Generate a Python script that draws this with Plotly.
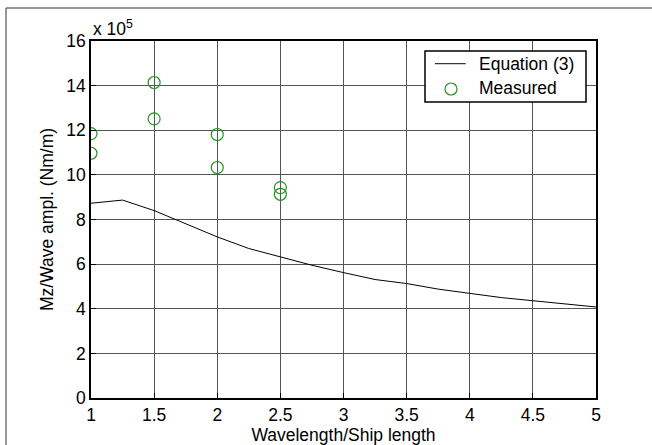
import plotly.graph_objects as go

# Wavelength / ship length ratio for the equation curve
eq_ratio = [1.0, 1.25, 1.5, 1.75, 2.0, 2.25, 2.5, 2.75, 3.0, 3.25, 3.5, 3.75, 4.0, 4.25, 4.5, 4.75, 5.0]
# Mz / wave amplitude from Equation (3), in units of 1e5 Nm/m
eq_mz = [8.73, 8.87, 8.40, 7.82, 7.22, 6.70, 6.32, 5.95, 5.62, 5.31, 5.13, 4.88, 4.69, 4.50, 4.36, 4.23, 4.08]

# Measured values, in units of 1e5 Nm/m
meas_ratio = [1.0, 1.0, 1.5, 1.5, 2.0, 2.0, 2.5, 2.5]
meas_mz = [11.85, 10.97, 14.14, 12.51, 11.81, 10.33, 9.43, 9.13]

x_ticks = [1, 1.5, 2, 2.5, 3, 3.5, 4, 4.5, 5]
x_ticktext = ["1", "1.5", "2", "2.5", "3", "3.5", "4", "4.5", "5"]
y_ticks = [0, 2, 4, 6, 8, 10, 12, 14, 16]

FONT = "Liberation Sans, Arial, Helvetica, sans-serif"
FS = 17.5
GREEN = "rgb(30,150,30)"

fig = go.Figure()
fig.add_trace(go.Scatter(
    x=eq_ratio, y=eq_mz, mode="lines", name="Equation (3)",
    line=dict(color="black", width=1),
))
fig.add_trace(go.Scatter(
    x=meas_ratio, y=meas_mz, mode="markers", name="Measured",
    marker=dict(symbol="circle-open", size=12, color=GREEN, line=dict(width=1.2, color=GREEN)),
))

axis_common = dict(
    showgrid=True, gridcolor="#555555", gridwidth=1,
    showline=True, linecolor="black", linewidth=1.5, mirror=True,
    ticks="inside", ticklen=5, tickcolor="black",
    zeroline=False, automargin=False,
    tickfont=dict(family=FONT, size=FS, color="black"),
)

fig.update_xaxes(
    range=[1, 5], tickvals=x_ticks, ticktext=x_ticktext,
    title=dict(text="Wavelength/Ship length", font=dict(family=FONT, size=FS, color="black"), standoff=6),
    **axis_common,
)
fig.update_yaxes(
    range=[0, 16], tickvals=y_ticks,
    title=dict(text="Mz/Wave ampl. (Nm/m)", font=dict(family=FONT, size=FS, color="black"), standoff=8),
    **axis_common,
)

# Exponent label above the y axis
fig.add_annotation(
    x=0, y=1, xref="paper", yref="paper", xanchor="left", yanchor="bottom",
    text="x 10<sup>5</sup>", showarrow=False, yshift=0,
    font=dict(family=FONT, size=FS, color="black"),
)

# Outer frame along the top and left edges of the figure
fig.add_shape(
    type="path", xref="paper", yref="paper",
    path="M -0.1683,-0.2 L -0.1683,1.0924 L 1.2,1.0924",
    line=dict(color="#333333", width=1),
)

# Legend box in the upper right corner of the axes
fig.add_shape(
    type="rect", xref="paper", yref="paper",
    x0=0.6614, x1=0.9802, y0=0.829, y1=0.972,
    fillcolor="white", line=dict(color="black", width=1.5), layer="above",
)
fig.add_shape(
    type="line", xref="paper", yref="paper",
    x0=0.681, x1=0.742, y0=0.9364, y1=0.9364,
    line=dict(color="black", width=1), layer="above",
)
fig.add_shape(
    type="circle", xref="paper", yref="paper",
    x0=0.7129 - 0.0119, x1=0.7129 + 0.0119, y0=0.8655 - 0.0168, y1=0.8655 + 0.0168,
    line=dict(color=GREEN, width=1.2), layer="above",
)
fig.add_annotation(
    x=0.7644, y=0.9364, xref="paper", yref="paper", xanchor="left", yanchor="middle",
    text="Equation (3)", showarrow=False,
    font=dict(family=FONT, size=FS, color="black"),
)
fig.add_annotation(
    x=0.7644, y=0.8683, xref="paper", yref="paper", xanchor="left", yanchor="middle",
    text="Measured", showarrow=False,
    font=dict(family=FONT, size=FS, color="black"),
)

fig.update_layout(
    width=652, height=445,
    margin=dict(l=91, r=56, t=41, b=47),
    paper_bgcolor="white", plot_bgcolor="white",
    font=dict(family=FONT, size=FS, color="black"),
    showlegend=False,
)

fig.write_html("out.html")
